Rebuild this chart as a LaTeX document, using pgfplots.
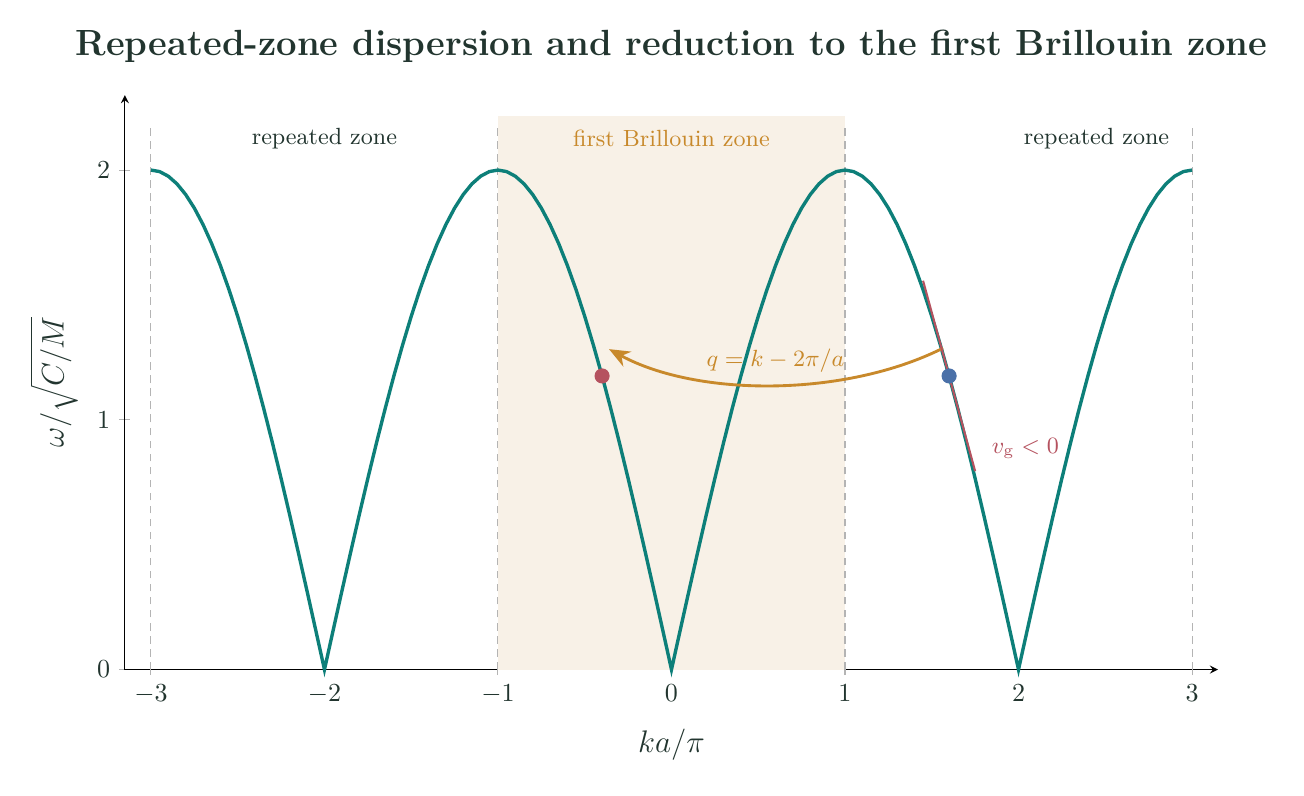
\documentclass[border=0pt]{standalone}
\usepackage{pgfplots}
\pgfplotsset{compat=1.18}
\usepackage{pgfplotstable}
\usetikzlibrary{arrows.meta}

\definecolor{curveteal}{HTML}{0D7F79}
\definecolor{zonegold}{HTML}{C8892B}
\definecolor{zoneshade}{HTML}{F8F1E7}
\definecolor{ptred}{HTML}{B5525F}
\definecolor{ptblue}{HTML}{4A70A8}
\definecolor{inkdark}{HTML}{22352F}
\definecolor{guidegray}{HTML}{B4B4B4}

% omega/sqrt(C/M) = 2|sin(ka/2)|, sampled every 0.05 in ka/pi
\pgfplotstableread{
x y
-3.00 2.00000
-2.95 1.99383
-2.90 1.97538
-2.85 1.94474
-2.80 1.90211
-2.75 1.84776
-2.70 1.78201
-2.65 1.70528
-2.60 1.61803
-2.55 1.52081
-2.50 1.41421
-2.45 1.29890
-2.40 1.17557
-2.35 1.04500
-2.30 0.90798
-2.25 0.76537
-2.20 0.61803
-2.15 0.46689
-2.10 0.31287
-2.05 0.15692
-2.00 0.00000
-1.95 0.15692
-1.90 0.31287
-1.85 0.46689
-1.80 0.61803
-1.75 0.76537
-1.70 0.90798
-1.65 1.04500
-1.60 1.17557
-1.55 1.29890
-1.50 1.41421
-1.45 1.52081
-1.40 1.61803
-1.35 1.70528
-1.30 1.78201
-1.25 1.84776
-1.20 1.90211
-1.15 1.94474
-1.10 1.97538
-1.05 1.99383
-1.00 2.00000
-0.95 1.99383
-0.90 1.97538
-0.85 1.94474
-0.80 1.90211
-0.75 1.84776
-0.70 1.78201
-0.65 1.70528
-0.60 1.61803
-0.55 1.52081
-0.50 1.41421
-0.45 1.29890
-0.40 1.17557
-0.35 1.04500
-0.30 0.90798
-0.25 0.76537
-0.20 0.61803
-0.15 0.46689
-0.10 0.31287
-0.05 0.15692
0.00 0.00000
0.05 0.15692
0.10 0.31287
0.15 0.46689
0.20 0.61803
0.25 0.76537
0.30 0.90798
0.35 1.04500
0.40 1.17557
0.45 1.29890
0.50 1.41421
0.55 1.52081
0.60 1.61803
0.65 1.70528
0.70 1.78201
0.75 1.84776
0.80 1.90211
0.85 1.94474
0.90 1.97538
0.95 1.99383
1.00 2.00000
1.05 1.99383
1.10 1.97538
1.15 1.94474
1.20 1.90211
1.25 1.84776
1.30 1.78201
1.35 1.70528
1.40 1.61803
1.45 1.52081
1.50 1.41421
1.55 1.29890
1.60 1.17557
1.65 1.04500
1.70 0.90798
1.75 0.76537
1.80 0.61803
1.85 0.46689
1.90 0.31287
1.95 0.15692
2.00 0.00000
2.05 0.15692
2.10 0.31287
2.15 0.46689
2.20 0.61803
2.25 0.76537
2.30 0.90798
2.35 1.04500
2.40 1.17557
2.45 1.29890
2.50 1.41421
2.55 1.52081
2.60 1.61803
2.65 1.70528
2.70 1.78201
2.75 1.84776
2.80 1.90211
2.85 1.94474
2.90 1.97538
2.95 1.99383
3.00 2.00000
}\dispersion

\begin{document}
\begin{tikzpicture}
\begin{axis}[
  scale only axis,
  width=420pt, height=220.7pt,
  xmin=-3.15, xmax=3.15, ymin=0, ymax=2.3,
  axis lines=left,
  clip=false,
  xtick={-3,-2,-1,0,1,2,3},
  ytick={0,1,2},
  tick align=center,
  major tick style={guidegray, thin},
  tick label style={text=inkdark},
  xlabel={$ka/\pi$},
  ylabel={$\omega/\sqrt{C/M}$},
  label style={text=inkdark, font=\large},
  xlabel style={yshift=-3pt},
  ylabel style={yshift=0.5pt},
  title={\textbf{Repeated-zone dispersion and reduction to the first Brillouin zone}},
  title style={font=\fontsize{14}{17}\selectfont, text=inkdark, yshift=3pt},
]
  % first Brillouin zone band
  \fill[zoneshade] (axis cs:-1,0) rectangle (axis cs:1,2.216);
  % zone boundaries
  \foreach \b in {-3,-1,1,3} {
    \edef\temp{\noexpand\draw[guidegray, dash pattern=on 3pt off 2pt, line width=0.4pt]
      (axis cs:\b,0) -- (axis cs:\b,2.17);}
    \temp
  }
  \node[font=\small, text=inkdark] at (axis cs:-2,2.125) {repeated zone};
  \node[font=\small, text=inkdark] at (axis cs:2.45,2.125) {repeated zone};
  \node[font=\small, text=zonegold] at (axis cs:0,2.125) {first Brillouin zone};
  \node[font=\small, text=zonegold] at (axis cs:0.6,1.235) {$q=k-2\pi/a$};

  % dispersion curve
  \addplot[curveteal, line width=1.3pt] table {\dispersion};

  % reduced and original points
  \addplot[only marks, mark=*, mark size=2.7pt, ptred, mark options={draw=ptred, fill=ptred}]
    coordinates {(-0.4,1.17557)};
  \addplot[only marks, mark=*, mark size=2.7pt, ptblue, mark options={draw=ptblue, fill=ptblue}]
    coordinates {(1.6,1.17557)};

  % mapping arrow
  \draw[zonegold, line width=1.1pt, -{Stealth[length=8pt, width=6.5pt]}]
    (axis cs:1.565,1.287) .. controls (axis cs:1.0,1.09) and (axis cs:0.15,1.09) .. (axis cs:-0.36,1.283);

  % tangent giving the group velocity
  \addplot[ptred, line width=0.8pt] coordinates {(1.45,1.5568) (1.75,0.7944)};
  \node[font=\small, text=ptred] at (axis cs:2.04,0.886) {$v_{\mathrm{g}}<0$};

  % picture frame
  \path (axis cs:-3.870,-0.505) rectangle (axis cs:3.6455,2.681);
\end{axis}
\end{tikzpicture}
\end{document}
